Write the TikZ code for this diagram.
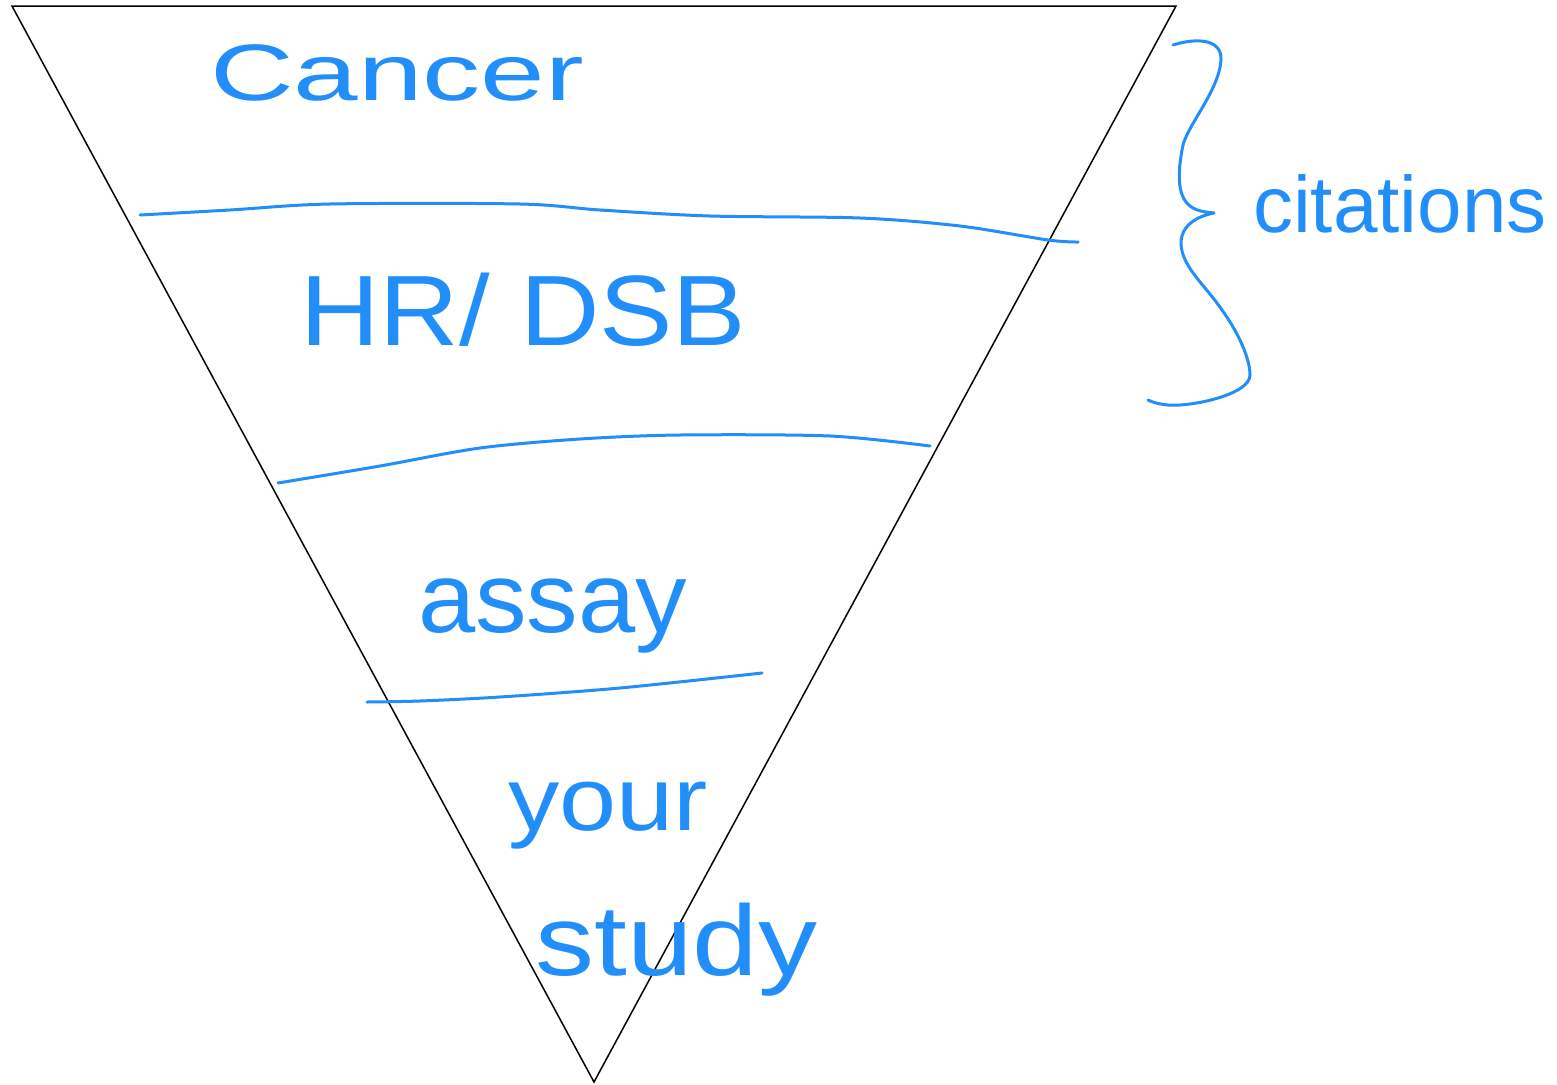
\documentclass[tikz,border=0pt]{standalone}
\usepackage{fontspec}
\setmainfont{Liberation Sans}
\definecolor{ink}{RGB}{34,142,250}
\begin{document}
\begin{tikzpicture}[x=1pt,y=-1pt,
  pen/.style={draw=ink,line width=3pt,line cap=round,line join=round},
  hand/.style={text=ink,inner sep=0pt,anchor=base west}]
\useasboundingbox[fill=white] (0,0) rectangle (1557,1084);
% funnel
\draw[black,line width=1.5pt,line join=miter] (12,6) -- (1176,6) -- (594,1082) -- cycle;
% dividing lines
\draw[pen] plot[smooth,tension=0.5] coordinates {(140,215) (230,210) (330,204) (520,204) (600,210) (710,216) (860,218) (960,226) (1048,240) (1078,242)};
\draw[pen] plot[smooth,tension=0.5] coordinates {(278,483) (380,466) (480,448) (580,439) (680,435) (830,436) (930,446)};
\draw[pen] plot[smooth,tension=0.5] coordinates {(367,702) (420,701) (500,697) (620,688) (762,673)};
% brace
\draw[pen] (1173,45) .. controls (1195,38) and (1222,38) .. (1221,60)
  .. controls (1219,90) and (1188,125) .. (1183,145)
  .. controls (1178,170) and (1176,195) .. (1190,206)
  .. controls (1196,211) and (1205,212) .. (1214,213)
  .. controls (1198,216) and (1180,225) .. (1181,245)
  .. controls (1183,268) and (1205,285) .. (1222,310)
  .. controls (1240,335) and (1250,360) .. (1250,375)
  .. controls (1250,395) and (1190,407) .. (1168,405)
  .. controls (1158,404) and (1152,402) .. (1148,400);
% texts
\node[hand,font=\fontsize{80}{90}\selectfont] (cancer) at (210,100) {\scalebox{1.45}[1]{Cancer}};
\node[hand,font=\fontsize{100}{110}\selectfont] (hr) at (300,345) {\scalebox{1.1}[1]{HR/ DSB}};
\node[hand,font=\fontsize{100}{110}\selectfont] (assay) at (418,632) {\scalebox{1.03}[1]{assay}};
\node[hand,font=\fontsize{90}{100}\selectfont] (your) at (508,830) {\scalebox{1.14}[1]{your}};
\node[hand,font=\fontsize{100}{110}\selectfont] (study) at (535,975) {\scalebox{1.18}[1]{study}};
\node[hand,font=\fontsize{80}{90}\selectfont] (cit) at (1253,232) {citations};
\end{tikzpicture}
\end{document}
